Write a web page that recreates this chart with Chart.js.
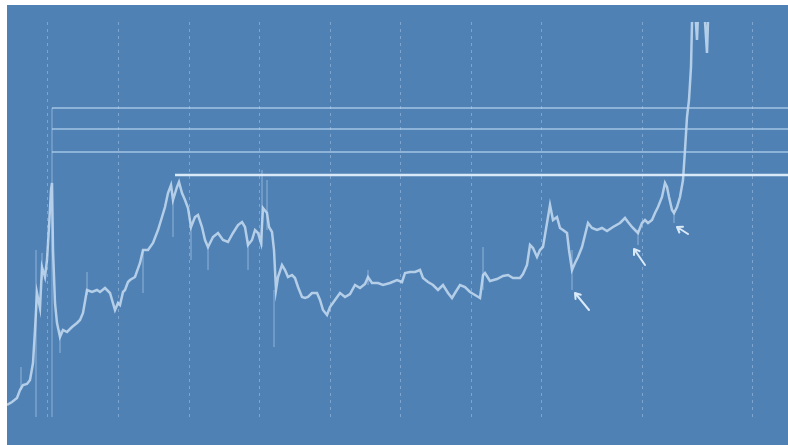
<!doctype html>
<html>
<head>
  <meta charset="utf-8">
  <title>Price chart</title>
  <script src="https://cdn.jsdelivr.net/npm/chart.js@4.4.1/dist/chart.umd.min.js"></script>
  <style>
    body { margin: 0; background: #ffffff; }
    #wrap { position: absolute; left: 7px; top: 5px; width: 781px; height: 440px; background: #4f81b5; }
  </style>
</head>
<body>
  <div id="wrap"><canvas id="chart"></canvas></div>

  <script>
    // bar index / price (arbitrary units)
    var bars = [0,5,10,13,16,20,23,26,28,30,33,35,38,40,42,44,45,46,48,50,53,56,60,65,70,73,76,80,85,90,93,98,103,108,111,113,116,118,121,123,128,133,136,141,146,151,155,158,161,164,166,170,172,175,178,181,184,188,191,195,198,201,206,211,216,221,226,231,235,238,241,245,248,251,254,256,260,262,265,267,269,271,275,278,281,285,288,291,295,298,301,305,310,313,316,320,323,328,333,338,343,348,353,358,361,365,371,376,383,390,395,398,403,408,413,416,421,426,431,436,441,445,448,453,458,463,468,473,476,478,483,490,496,501,506,513,516,520,523,526,530,533,536,540,543,546,550,553,556,560,562,565,568,571,575,578,581,585,590,595,600,606,613,618,621,625,628,631,635,638,641,645,648,651,655,658,660,662,665,667,670,673,676,678,680,682,684,685,687,690,692,696,700,702,708];
    var price = [12,15,19,27,32,33,37,54,87,124,109,150,140,157,190,227,234,167,114,94,80,87,85,90,94,97,104,127,125,127,125,129,124,107,114,112,125,127,135,137,140,154,167,167,174,187,200,210,224,232,217,230,235,224,217,209,190,200,202,190,177,170,180,184,177,175,184,192,195,190,172,177,187,184,174,209,204,190,185,167,127,140,152,147,140,142,139,130,120,119,120,124,124,117,107,102,110,117,124,120,123,132,129,133,140,134,134,132,134,137,135,144,145,145,147,139,135,132,127,132,124,119,124,132,130,125,122,119,142,144,136,138,141,142,139,139,143,152,172,169,160,167,170,194,212,197,200,189,187,184,167,147,154,160,170,182,194,189,187,189,186,190,194,199,195,190,187,184,194,197,194,197,204,210,220,234,230,220,207,204,210,220,237,267,300,317,350,394,427,377,427,427,364,427,437];

    // long wicks: bar, low, high
    var wickBars = [14,29,35,53,80,136,166,184,201,241,255,260,267,361,476,565,631,667];
    var wickLow  = [27,0,137,64,122,124,180,157,147,147,170,187,70,132,127,127,172,194];
    var wickHigh = [50,167,164,87,145,167,217,190,170,177,247,237,127,147,170,167,187,207];

    // drawn resistance levels
    var levels = [309, 288, 265];
    var levelStart = 45;
    var mainLevel = 242;
    var mainLevelStart = 168;
    var lastBar = 781;

    // vertical grid positions (bar index)
    var gridBars = [40, 111, 182, 252, 323, 393, 464, 534, 635, 745];

    // arrows: tip bar, tip price, tail bar, tail price
    var arrows = [
      [568, 124, 582, 107],
      [627, 168, 638, 152],
      [670, 190, 681, 183]
    ];

    var lineColor = 'rgba(205,225,245,0.8)';

    var mainData = bars.map(function (b, i) { return { x: b, y: price[i] }; });

    var wickData = [];
    wickBars.forEach(function (b, i) {
      wickData.push({ x: b, y: wickLow[i] }, { x: b, y: wickHigh[i] }, { x: b, y: null });
    });

    var levelData = [];
    levels.forEach(function (v) {
      levelData.push({ x: levelStart, y: v }, { x: lastBar, y: v }, { x: lastBar, y: null });
    });

    var datasets = [
      {
        label: 'levels',
        data: levelData,
        borderColor: 'rgba(185,212,240,0.8)',
        borderWidth: 1.5,
        pointRadius: 0,
        spanGaps: false
      },
      {
        label: 'marker',
        data: [{ x: levelStart, y: 0 }, { x: levelStart, y: levels[0] }],
        borderColor: 'rgba(185,212,240,0.6)',
        borderWidth: 1,
        pointRadius: 0
      },
      {
        label: 'main level',
        data: [{ x: mainLevelStart, y: mainLevel }, { x: lastBar, y: mainLevel }],
        borderColor: 'rgba(225,238,252,0.95)',
        borderWidth: 2.5,
        pointRadius: 0
      },
      {
        label: 'wicks',
        data: wickData,
        borderColor: 'rgba(200,222,245,0.55)',
        borderWidth: 1,
        pointRadius: 0,
        spanGaps: false
      },
      {
        label: 'price',
        data: mainData,
        borderColor: lineColor,
        borderWidth: 2.5,
        pointRadius: 0,
        tension: 0
      }
    ];

    var arrowPlugin = {
      id: 'arrows',
      afterDatasetsDraw: function (chart) {
        var ctx = chart.ctx, xs = chart.scales.x, ys = chart.scales.y;
        ctx.save();
        ctx.strokeStyle = 'rgba(225,238,252,0.95)';
        ctx.lineWidth = 2;
        ctx.lineCap = 'round';
        arrows.forEach(function (a) {
          var x1 = xs.getPixelForValue(a[0]), y1 = ys.getPixelForValue(a[1]);
          var x2 = xs.getPixelForValue(a[2]), y2 = ys.getPixelForValue(a[3]);
          var ang = Math.atan2(y1 - y2, x1 - x2);
          ctx.beginPath();
          ctx.moveTo(x2, y2);
          ctx.lineTo(x1, y1);
          ctx.moveTo(x1, y1);
          ctx.lineTo(x1 - 6 * Math.cos(ang - 0.6), y1 - 6 * Math.sin(ang - 0.6));
          ctx.moveTo(x1, y1);
          ctx.lineTo(x1 - 6 * Math.cos(ang + 0.6), y1 - 6 * Math.sin(ang + 0.6));
          ctx.stroke();
        });
        ctx.restore();
      }
    };

    new Chart(document.getElementById('chart'), {
      type: 'line',
      data: { datasets: datasets },
      options: {
        responsive: true,
        maintainAspectRatio: false,
        animation: false,
        layout: { padding: { top: 17, bottom: 28, left: 0, right: 0 } },
        plugins: { legend: { display: false }, tooltip: { enabled: false } },
        scales: {
          x: {
            type: 'linear',
            min: 0,
            max: lastBar,
            afterBuildTicks: function (scale) {
              scale.ticks = gridBars.map(function (v) { return { value: v }; });
            },
            ticks: { display: false },
            border: { display: false, dash: [3, 4] },
            grid: {
              drawTicks: false,
              color: 'rgba(165,195,228,0.55)',
              lineWidth: 1
            }
          },
          y: {
            min: 0,
            max: 395,
            display: false
          }
        }
      },
      plugins: [arrowPlugin]
    });
  </script>
</body>
</html>
